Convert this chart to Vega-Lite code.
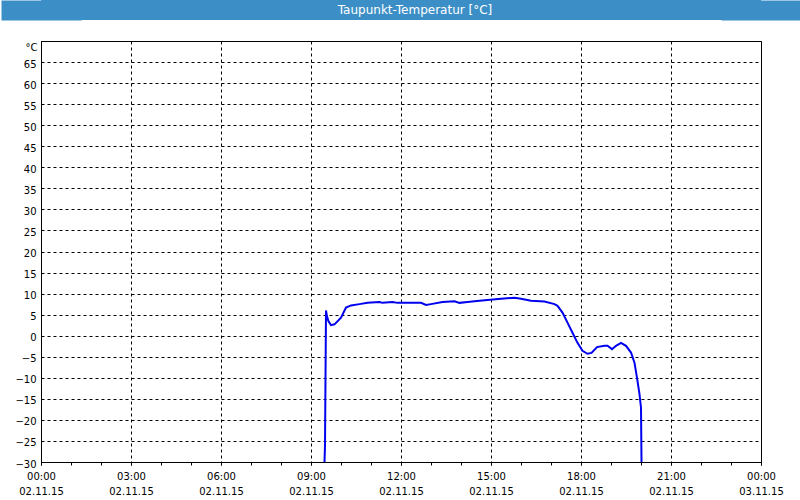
{
  "$schema": "https://vega.github.io/schema/vega-lite/v6.json",
  "background": "white",
  "padding": {"left": 0, "top": 0, "right": 25, "bottom": 0},
  "spacing": 20,
  "vconcat": [
    {
      "width": 720,
      "height": 20,
      "view": {"fill": "#3c8fc6", "stroke": null},
      "data": {"values": [{"title": "Taupunkt-Temperatur [°C]", "side": 0}]},
      "layer": [
        {
          "mark": {"type": "text", "color": "white", "font": "DejaVu Sans", "fontSize": 12, "dx": 14},
          "encoding": {
            "text": {"field": "title"},
            "y": {"field": "side", "type": "quantitative", "scale": {"domain": [-1, 1]},
              "axis": {"orient": "left", "title": null, "labels": false, "ticks": false, "grid": false, "domainColor": "#3c8fc6", "domainWidth": 80}}
          }
        },
        {
          "mark": {"type": "text", "opacity": 0},
          "encoding": {
            "text": {"field": "title"},
            "y": {"field": "side", "type": "quantitative", "scale": {"domain": [-1, 1]},
              "axis": {"orient": "right", "title": null, "labels": false, "ticks": false, "grid": false, "domainColor": "#3c8fc6", "domainWidth": 80}}
          }
        }
      ],
      "resolve": {"axis": {"y": "independent"}}
    },
    {
      "width": 720,
      "height": 421,
      "view": {"stroke": "black", "strokeWidth": 1, "fill": "white"},
      "data": {
        "values": [
          {"hour": 9.45, "value": -30},
          {"hour": 9.467, "value": -26},
          {"hour": 9.5, "value": 6.0},
          {"hour": 9.533, "value": 4.6},
          {"hour": 9.583, "value": 3.4},
          {"hour": 9.667, "value": 2.5},
          {"hour": 9.783, "value": 2.7},
          {"hour": 10.0, "value": 4.3},
          {"hour": 10.167, "value": 6.7},
          {"hour": 10.333, "value": 7.2},
          {"hour": 10.617, "value": 7.5},
          {"hour": 10.883, "value": 7.8},
          {"hour": 11.283, "value": 8.0},
          {"hour": 11.383, "value": 7.8},
          {"hour": 11.717, "value": 8.0},
          {"hour": 11.883, "value": 7.8},
          {"hour": 12.667, "value": 7.8},
          {"hour": 12.833, "value": 7.3},
          {"hour": 13.0, "value": 7.5},
          {"hour": 13.383, "value": 8.0},
          {"hour": 13.783, "value": 8.2},
          {"hour": 13.95, "value": 7.8},
          {"hour": 14.217, "value": 8.0},
          {"hour": 14.45, "value": 8.2},
          {"hour": 14.883, "value": 8.5},
          {"hour": 15.333, "value": 8.8},
          {"hour": 15.783, "value": 9.0},
          {"hour": 16.0, "value": 8.8},
          {"hour": 16.333, "value": 8.3},
          {"hour": 16.783, "value": 8.1},
          {"hour": 17.117, "value": 7.5},
          {"hour": 17.217, "value": 7.1},
          {"hour": 17.383, "value": 5.5},
          {"hour": 17.55, "value": 3.1},
          {"hour": 17.717, "value": 0.7},
          {"hour": 17.883, "value": -1.7},
          {"hour": 18.05, "value": -3.6},
          {"hour": 18.217, "value": -4.3},
          {"hour": 18.35, "value": -4.1},
          {"hour": 18.533, "value": -2.7},
          {"hour": 18.783, "value": -2.4},
          {"hour": 18.883, "value": -2.4},
          {"hour": 19.033, "value": -3.2},
          {"hour": 19.167, "value": -2.4},
          {"hour": 19.333, "value": -1.7},
          {"hour": 19.5, "value": -2.4},
          {"hour": 19.667, "value": -4.0},
          {"hour": 19.783, "value": -6.4},
          {"hour": 19.867, "value": -10.0},
          {"hour": 19.95, "value": -13.9},
          {"hour": 20.0, "value": -17.1},
          {"hour": 20.017, "value": -30}
        ]
      },
      "layer": [
        {
          "mark": {"type": "line", "color": "#0000ee", "strokeWidth": 2, "clip": true},
          "encoding": {
            "x": {
              "field": "hour",
              "type": "quantitative",
              "scale": {"domain": [0, 24], "nice": false, "zero": false},
              "axis": {
                "orient": "bottom",
                "title": null,
                "values": [0, 3, 6, 9, 12, 15, 18, 21, 24],
                "labelExpr": "[(datum.value % 24 < 10 ? '0' : '') + (datum.value % 24) + ':00', datum.value == 24 ? '03.11.15' : '02.11.15']",
                "labelOverlap": false,
                "labelFlush": false,
                "labelFont": "DejaVu Sans",
                "labelFontSize": 10,
                "labelLineHeight": 15,
                "labelColor": "black",
                "labelPadding": 6,
                "grid": true,
                "gridColor": "black",
                "gridDash": [3, 3],
                "gridWidth": 1,
                "tickSize": 3,
                "tickColor": "black",
                "domainColor": "black"
              }
            },
            "y": {
              "field": "value",
              "type": "quantitative",
              "scale": {"domain": [-30, 70], "nice": false, "zero": false},
              "axis": {
                "title": "        °C",
                "titleX": -4,
                "titleY": 1,
                "titleAngle": 0,
                "titleAlign": "right",
                "titleBaseline": "top",
                "titleFont": "DejaVu Sans",
                "titleFontSize": 10,
                "titleFontWeight": "normal",
                "titleColor": "black",
                "minExtent": 40,
                "maxExtent": 40,
                "values": [-30, -25, -20, -15, -10, -5, 0, 5, 10, 15, 20, 25, 30, 35, 40, 45, 50, 55, 60, 65],
                "labelOffset": 2,
                "labelFont": "DejaVu Sans",
                "labelFontSize": 10,
                "labelColor": "black",
                "labelPadding": 5,
                "labelOverlap": false,
                "labelFlush": false,
                "ticks": false,
                "grid": true,
                "gridColor": "black",
                "gridDash": [3, 3],
                "gridWidth": 1,
                "domainColor": "black"
              }
            }
          }
        },
        {
          "mark": {"type": "line", "opacity": 0, "clip": true},
          "encoding": {
            "x": {
              "field": "hour",
              "type": "quantitative",
              "axis": {
                "orient": "bottom",
                "title": null,
                "values": [0, 1, 2, 3, 4, 5, 6, 7, 8, 9, 10, 11, 12, 13, 14, 15, 16, 17, 18, 19, 20, 21, 22, 23, 24],
                "labels": false,
                "grid": false,
                "domain": false,
                "tickSize": 3,
                "tickColor": "black"
              }
            }
          }
        }
      ],
      "resolve": {"axis": {"x": "independent"}}
    }
  ]
}
